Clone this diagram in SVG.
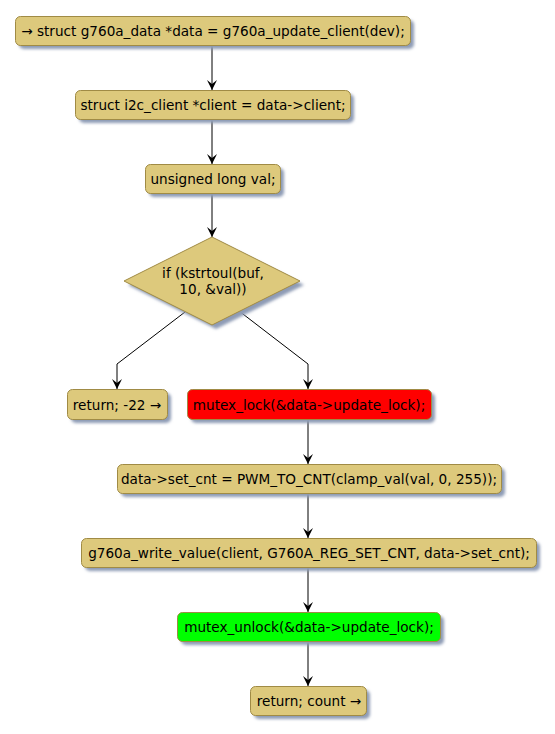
<svg xmlns="http://www.w3.org/2000/svg" width="555" height="734" viewBox="0 0 555 734">
<defs>
<filter id="sh" x="-10%" y="-30%" width="130%" height="180%">
<feGaussianBlur stdDeviation="1.5"/>
</filter>
<marker id="ah" viewBox="0 0 10 10" markerWidth="10" markerHeight="10" refX="10" refY="5" orient="auto" markerUnits="userSpaceOnUse">
<path d="M0,0 L10,5 L0,10 L4,5 Z" fill="#000"/>
</marker>
</defs>
<style>
.n{fill:#DDC97C;stroke:#A08B45;stroke-width:1}
.s{fill:#8E9BB5;filter:url(#sh)}
.t{font-family:"DejaVu Sans",sans-serif;font-size:13.6px;fill:#000;text-anchor:middle}
.c{stroke:#000;stroke-width:1;fill:none}
</style>
<rect width="555" height="734" fill="#fff"/>
<g id="connectors">
<line class="c" x1="212" y1="45" x2="212" y2="90" marker-end="url(#ah)"/>
<line class="c" x1="212" y1="119" x2="212" y2="164" marker-end="url(#ah)"/>
<line class="c" x1="212" y1="193" x2="212" y2="237" marker-end="url(#ah)"/>
<polyline class="c" points="185,312 117,364 117,389" marker-end="url(#ah)"/>
<polyline class="c" points="239,311 308,364 308,389" marker-end="url(#ah)"/>
<line class="c" x1="308" y1="419" x2="308" y2="464" marker-end="url(#ah)"/>
<line class="c" x1="308" y1="493" x2="308" y2="538" marker-end="url(#ah)"/>
<line class="c" x1="308" y1="567" x2="308" y2="612" marker-end="url(#ah)"/>
<line class="c" x1="308" y1="641" x2="308" y2="686" marker-end="url(#ah)"/>
</g>
<g id="n1">
<rect class="s" x="19" y="20" width="395" height="29" rx="5"/>
<rect class="n" x="15.5" y="16.5" width="395" height="29" rx="5"/>
<text class="t" x="213" y="35.5">→ struct g760a_data *data = g760a_update_client(dev);</text>
</g>
<g id="n2">
<rect class="s" x="79" y="94" width="275" height="29" rx="5"/>
<rect class="n" x="75.5" y="90.5" width="275" height="29" rx="5"/>
<text class="t" x="213" y="109.5">struct i2c_client *client = data-&gt;client;</text>
</g>
<g id="n3">
<rect class="s" x="149" y="168" width="135" height="29" rx="5"/>
<rect class="n" x="145.5" y="164.5" width="135" height="29" rx="5"/>
<text class="t" x="213" y="183.5">unsigned long val;</text>
</g>
<g id="n4">
<polygon class="s" points="216,241 304,285 216,329 128,285"/>
<polygon class="n" points="212,237 300,281 212,325 124,281"/>
<text class="t" x="213" y="278">if (kstrtoul(buf,</text>
<text class="t" x="213" y="293.5">10, &amp;val))</text>
</g>
<g id="n5">
<rect class="s" x="71" y="393" width="100" height="30" rx="5"/>
<rect class="n" x="67.5" y="389.5" width="100" height="30" rx="5"/>
<text class="t" x="117" y="409.5">return; -22 →</text>
</g>
<g id="n6">
<rect class="s" x="191" y="393" width="244" height="30" rx="5"/>
<rect class="n" x="187.5" y="389.5" width="244" height="30" rx="5" style="fill:#FF0000"/>
<text class="t" x="309" y="409.5">mutex_lock(&amp;data-&gt;update_lock);</text>
</g>
<g id="n7">
<rect class="s" x="121" y="468" width="384" height="29" rx="5"/>
<rect class="n" x="117.5" y="464.5" width="384" height="29" rx="5"/>
<text class="t" x="309" y="483.5">data-&gt;set_cnt = PWM_TO_CNT(clamp_val(val, 0, 255));</text>
</g>
<g id="n8">
<rect class="s" x="85" y="542" width="455" height="29" rx="5"/>
<rect class="n" x="81.5" y="538.5" width="455" height="29" rx="5"/>
<text class="t" x="309" y="557.5">g760a_write_value(client, G760A_REG_SET_CNT, data-&gt;set_cnt);</text>
</g>
<g id="n9">
<rect class="s" x="181" y="616" width="263" height="29" rx="5"/>
<rect class="n" x="177.5" y="612.5" width="263" height="29" rx="5" style="fill:#00FF00"/>
<text class="t" x="309" y="631.5">mutex_unlock(&amp;data-&gt;update_lock);</text>
</g>
<g id="n10">
<rect class="s" x="254" y="690" width="116" height="29" rx="5"/>
<rect class="n" x="250.5" y="686.5" width="116" height="29" rx="5"/>
<text class="t" x="309" y="705.5">return; count →</text>
</g>
</svg>
